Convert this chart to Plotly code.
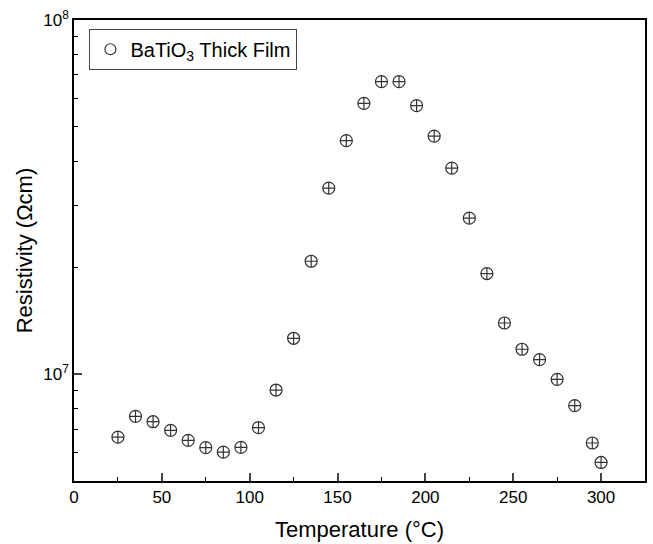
import plotly.graph_objects as go

temps = [25, 35, 45, 55, 65, 75, 85, 95, 105, 115, 125, 135, 145, 155, 165, 175,
         185, 195, 205, 215, 225, 235, 245, 255, 265, 275, 285, 295, 300]
resistivity = [6.65e6, 7.61e6, 7.35e6, 6.95e6, 6.51e6, 6.21e6, 6.03e6, 6.22e6, 7.07e6,
               9.03e6, 1.264e7, 2.085e7, 3.354e7, 4.566e7, 5.816e7, 6.70e7, 6.70e7,
               5.734e7, 4.70e7, 3.82e7, 2.759e7, 1.925e7, 1.396e7, 1.177e7, 1.100e7,
               9.68e6, 8.16e6, 6.40e6, 5.64e6]
series_name = "BaTiO<sub>3</sub> Thick Film"
x_ticks = [0, 50, 100, 150, 200, 250, 300]
y_ticks = [1e7, 1e8]
y_tick_text = ["10<sup>7</sup>", "10<sup>8</sup>"]
y_minor = [6e6, 7e6, 8e6, 9e6, 2e7, 3e7, 4e7, 5e7, 6e7, 7e7, 8e7, 9e7]

fig = go.Figure()
fig.add_trace(go.Scatter(
    x=temps, y=resistivity, mode="markers", showlegend=False,
    marker=dict(symbol="circle-cross-open", size=12, color="#333333",
                line=dict(width=1.2, color="#333333")),
))
fig.add_trace(go.Scatter(
    x=[None], y=[None], mode="markers", name=series_name,
    marker=dict(symbol="circle-open", size=11, color="#333333",
                line=dict(width=1.2, color="#333333")),
))

font = "Liberation Sans, Arial, sans-serif"
fig.update_layout(
    width=653, height=544,
    margin=dict(l=74, r=8, t=20, b=63),
    paper_bgcolor="white", plot_bgcolor="white",
    font=dict(family=font, color="black", size=17),
    showlegend=True,
    legend=dict(x=0.027, y=0.981, xanchor="left", yanchor="top",
                bordercolor="#444444", borderwidth=1, bgcolor="white",
                font=dict(size=20, family=font), itemwidth=30),
    xaxis=dict(
        range=[0, 325], tickvals=x_ticks, ticks="inside", ticklen=8, tickwidth=1.5,
        showline=True, linecolor="black", linewidth=1.5, mirror=True,
        showgrid=False, zeroline=False, automargin=False, ticklabeloverflow="allow",
        minor=dict(tickvals=[25, 75, 125, 175, 225, 275], ticks="inside", ticklen=4,
                   tickwidth=1.2, tickcolor="black"),
        title=dict(text="Temperature (°C)", font=dict(size=22), standoff=15),
        tickfont=dict(size=17),
    ),
    yaxis=dict(
        type="log", range=[0.69897 + 6, 8], tickvals=y_ticks, ticktext=y_tick_text,
        ticks="inside", ticklen=8, tickwidth=1.5,
        showline=True, linecolor="black", linewidth=1.5, mirror=True,
        showgrid=False, zeroline=False, automargin=False, ticklabeloverflow="allow",
        minor=dict(tickvals=y_minor, ticks="inside", ticklen=4, tickwidth=1.2,
                   tickcolor="black"),
        title=dict(text="Resistivity (Ωcm)", font=dict(size=22), standoff=5),
        tickfont=dict(size=17),
    ),
)

fig.write_html(
    "out.html",
    config={"displayModeBar": False},
    post_script="document.body.style.margin='0';document.body.style.overflow='hidden';",
)
